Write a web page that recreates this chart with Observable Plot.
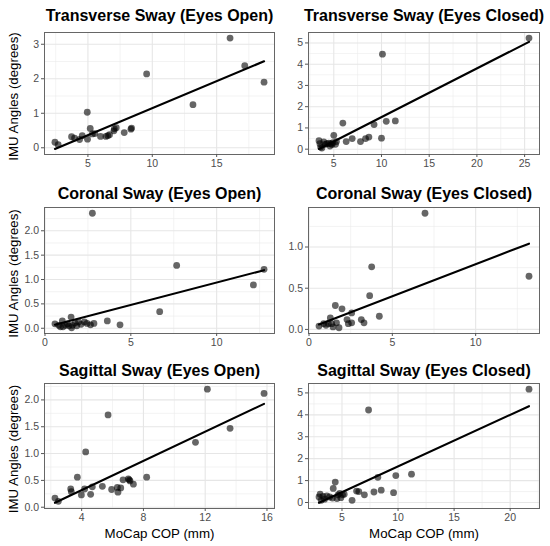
<!DOCTYPE html>
<html><head><meta charset="utf-8">
<script src="https://cdn.jsdelivr.net/npm/d3@7"></script>
<script src="https://cdn.jsdelivr.net/npm/@observablehq/plot@0.6"></script>
<style>
body{margin:0;background:#fff;}
#chart{position:relative;width:550px;height:546px;font-family:"Liberation Sans",Arial,sans-serif;background:#fff;}
#chart svg{position:absolute;overflow:visible;}
</style></head><body><div id="chart"></div>
<script>
// ---- Data (MoCap COP in mm vs IMU angles in degrees) ----
const panelTitles = [
  "Transverse Sway (Eyes Open)", "Transverse Sway (Eyes Closed)",
  "Coronal Sway (Eyes Open)", "Coronal Sway (Eyes Closed)",
  "Sagittal Sway (Eyes Open)", "Sagittal Sway (Eyes Closed)"
];
const yAxisTitle = "IMU Angles (degrees)";
const xAxisTitle = "MoCap COP (mm)";

const transverseOpenCop = [2.44,2.69,3.73,3.96,4.35,4.56,4.95,4.97,5.18,5.34,5.54,5.98,6.40,6.55,6.68,7.02,7.05,7.20,7.82,8.34,8.39,9.56,13.16,16.04,17.18,18.68];
const transverseOpenImu = [0.16,0.09,0.32,0.28,0.24,0.35,1.03,0.25,0.56,0.40,0.41,0.33,0.33,0.35,0.38,0.49,0.55,0.58,0.44,0.54,0.57,2.14,1.25,3.18,2.38,1.90];

const transverseClosedCop = [3.45,3.55,3.62,3.75,3.95,4.12,4.25,4.47,4.6,4.7,4.82,4.9,5.0,5.18,5.28,5.95,6.3,6.93,7.8,8.33,8.68,9.22,10.0,10.1,10.5,11.45,25.46];
const transverseClosedImu = [0.40,0.26,0.10,0.05,0.34,0.23,0.26,0.28,0.15,0.26,0.22,0.31,0.65,0.23,0.36,1.23,0.36,0.50,0.36,0.50,0.57,1.16,0.52,4.47,1.31,1.33,5.23];

const coronalOpenCop = [0.58,0.80,0.90,1.01,1.05,1.20,1.30,1.40,1.52,1.55,1.60,1.75,1.85,1.95,2.10,2.30,2.45,2.65,2.76,2.85,3.63,4.37,6.68,7.67,12.14,12.76];
const coronalOpenImu = [0.09,0.06,0.03,0.15,0.03,0.06,0.09,0.05,0.23,0.01,0.06,0.11,0.05,0.13,0.08,0.13,0.10,0.07,2.36,0.10,0.15,0.07,0.34,1.29,0.89,1.21];

const coronalClosedCop = [0.60,0.88,1.02,1.16,1.28,1.36,1.44,1.58,1.65,1.80,1.98,2.28,2.36,2.56,2.56,3.14,3.30,3.64,3.76,4.22,6.96,13.20];
const coronalClosedImu = [0.04,0.07,0.05,0.07,0.14,0.07,0.03,0.29,0.08,0.02,0.25,0.12,0.07,0.20,0.08,0.12,0.08,0.41,0.76,0.16,1.41,0.645];

const sagittalOpenCop = [2.27,2.49,3.29,3.33,3.72,3.98,4.19,4.26,4.58,4.69,5.34,5.71,5.94,6.31,6.35,6.53,6.68,7.02,7.08,7.13,7.35,8.21,11.37,12.14,13.61,15.81];
const sagittalOpenImu = [0.17,0.11,0.34,0.29,0.56,0.23,0.34,1.03,0.24,0.38,0.39,1.72,0.33,0.37,0.28,0.36,0.51,0.53,0.51,0.49,0.43,0.56,1.21,2.20,1.47,2.12];

const sagittalClosedCop = [2.95,3.05,3.15,3.30,3.45,3.65,3.90,4.15,4.22,4.40,4.55,4.65,4.80,4.90,5.05,5.20,5.90,6.30,6.50,7.00,7.37,7.85,8.20,8.50,9.60,9.80,11.20,21.68];
const sagittalClosedImu = [0.25,0.38,0.10,0.28,0.15,0.30,0.25,0.20,0.64,0.93,0.18,0.35,0.42,0.22,0.35,0.38,0.10,0.52,0.50,0.35,4.22,0.48,1.15,0.56,0.45,1.23,1.29,5.17];

// ---- Tick values ----
const xTickValues = [[5,10,15],[5,10,15,20,25],[0,5,10],[0,5,10],[4,8,12,16],[5,10,15,20]];
const yTickValues = [[0,1,2,3],[0,1,2,3,4,5],[0,0.5,1,1.5,2],[0,0.5,1],[0,0.5,1,1.5,2],[0,1,2,3,4,5]];
const yTickFormats = ["d","d",".1f",".1f",".1f","d"];

const copSeries = [transverseOpenCop, transverseClosedCop, coronalOpenCop, coronalClosedCop, sagittalOpenCop, sagittalClosedCop];
const imuSeries = [transverseOpenImu, transverseClosedImu, coronalOpenImu, coronalClosedImu, sagittalOpenImu, sagittalClosedImu];

// ---- Layout ----
const cols = [{left:0,width:275,ml:44,mr:1},{left:275,width:275,ml:33,mr:11}];
const rows = [{top:0,height:180,mt:32,mb:26,tdy:-17},{top:180,height:175,mt:27,mb:22,tdy:-14},{top:355,height:191,mt:28,mb:38,tdy:-13}];

function fit(xs, ys){
  const mx = d3.mean(xs), my = d3.mean(ys);
  let sxy = 0, sxx = 0;
  xs.forEach((x,i)=>{ sxy += (x-mx)*(ys[i]-my); sxx += (x-mx)*(x-mx); });
  const b = sxy/sxx; return {a: my - b*mx, b};
}
function expand([a,b]){ const p=(b-a)*0.05; return [a-p,b+p]; }
function minor(ticks, domain){
  const step = ticks[1]-ticks[0];
  const out = [ticks[0]-step/2, ...ticks.map(t=>t+step/2)];
  return out.filter(v=>v>=domain[0] && v<=domain[1]);
}

const chart = document.getElementById("chart");
panelTitles.forEach((title,i)=>{
  const col = cols[i%2], row = rows[Math.floor(i/2)];
  const xs = copSeries[i], ys = imuSeries[i];
  const data = xs.map((x,j)=>({cop:x, imu:ys[j]}));
  const xExt = d3.extent(xs);
  const lm = fit(xs, ys);
  const fitted = xExt.map(x=>lm.a+lm.b*x);
  const xDomain = expand(xExt);
  const yDomain = expand(d3.extent([...ys, ...fitted]));
  const xt = xTickValues[i], yt = yTickValues[i];
  const marks = [
    Plot.gridX(minor(xt,xDomain), {stroke:"#ebebeb", strokeOpacity:1, strokeWidth:0.6}),
    Plot.gridY(minor(yt,yDomain), {stroke:"#ebebeb", strokeOpacity:1, strokeWidth:0.6}),
    Plot.gridX(xt, {stroke:"#e6e6e6", strokeOpacity:1, strokeWidth:1.1}),
    Plot.gridY(yt, {stroke:"#e6e6e6", strokeOpacity:1, strokeWidth:1.1}),
    Plot.dot(data, {x:"cop", y:"imu", r:3.4, fill:"black", fillOpacity:0.6}),
    Plot.linearRegressionY(data, {x:"cop", y:"imu", stroke:"black", strokeWidth:2.1, ci:0}),
    Plot.frame({stroke:"#666", strokeWidth:1}),
    Plot.axisX(xt, {tickSize:3, tickPadding:2.5, fontSize:10.5, fill:"#4d4d4d", stroke:"#555", label:null}),
    Plot.axisY(yt, {tickSize:3, tickPadding:2.5, fontSize:10.5, fill:"#4d4d4d", stroke:"#555", label:null, tickFormat:d3.format(yTickFormats[i])}),
    Plot.text([title], {frameAnchor:"top", dy:row.tdy, fontSize:16, fontWeight:"bold", fill:"black", lineAnchor:"middle", textAnchor:"middle"})
  ];
  if (i%2===0) marks.push(Plot.text([yAxisTitle], {frameAnchor:"left", dx:-31, dy:3, rotate:-90, fontSize:13.3, fill:"black", lineAnchor:"middle", textAnchor:"middle"}));
  if (i>=4) marks.push(Plot.text([xAxisTitle], {frameAnchor:"bottom", dy:25, fontSize:13.3, fill:"black", lineAnchor:"middle", textAnchor:"middle"}));
  const svg = Plot.plot({
    width: col.width, height: row.height,
    marginLeft: col.ml, marginRight: col.mr, marginTop: row.mt, marginBottom: row.mb,
    style: {fontFamily:"'Liberation Sans', Arial, sans-serif", background:"transparent"},
    x: {domain:xDomain, label:null},
    y: {domain:yDomain, label:null},
    marks
  });
  svg.style.left = col.left + "px";
  svg.style.top = row.top + "px";
  chart.appendChild(svg);
});
</script></body></html>
